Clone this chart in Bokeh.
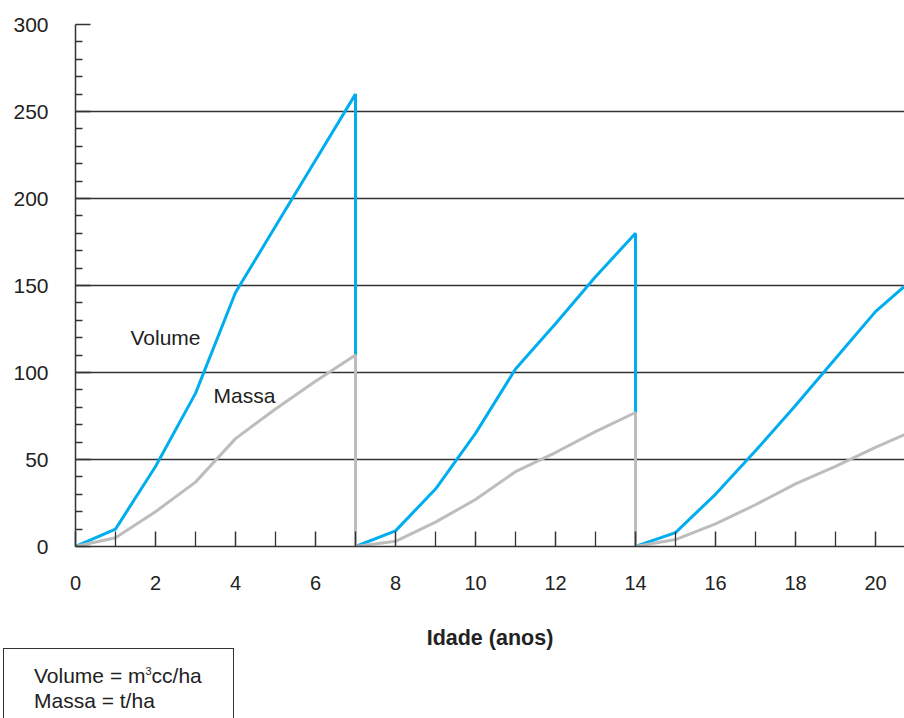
from bokeh.plotting import figure
from bokeh.models import FixedTicker, Label, Range1d, Div
from bokeh.layouts import column
from bokeh.embed import file_html
from bokeh.resources import INLINE

# ---- data ----
age_r1 = [0, 1, 2, 3, 4, 5, 6, 7]
vol_r1 = [0, 10, 46, 88, 146, 184, 222, 260]
mass_r1 = [0, 5, 20, 37, 62, 79, 95, 110]

age_r2 = [7, 8, 9, 10, 11, 12, 13, 14]
vol_r2 = [0, 9, 33, 65, 102, 128, 155, 180]
mass_r2 = [0, 3, 14, 27, 43, 54, 66, 77]

age_r3 = [14, 15, 16, 17, 18, 19, 20, 21]
vol_r3 = [0, 8, 30, 55, 81, 108, 135, 155]
mass_r3 = [0, 4, 13, 24, 36, 46, 57, 67]

y_ticks = [0, 50, 100, 150, 200, 250, 300]
y_minor = [v for v in range(0, 301, 10) if v % 50 != 0]
x_ticks = [0, 2, 4, 6, 8, 10, 12, 14, 16, 18, 20]
x_minor = [1, 3, 5, 7, 9, 11, 13, 15, 17, 19]

x_label = "Idade (anos)"
series_names = ["Volume", "Massa"]
units_lines = ["Volume = m<sup style='font-size:11px'>3</sup>cc/ha", "Massa = t/ha"]

FONT = "Liberation Sans"
BLUE = "#00AEEF"
GREY = "#BDBDBD"
DARK = "#333333"

p = figure(width=904, height=656, output_backend="svg", toolbar_location=None,
           x_range=Range1d(0, 20.725), y_range=Range1d(0, 300),
           min_border_left=75, min_border_right=0, min_border_top=24,
           min_border_bottom=110)
p.outline_line_color = None
p.background_fill_color = "white"

age = age_r1 + age_r2 + age_r3
vol = vol_r1 + vol_r2 + vol_r3
mass = mass_r1 + mass_r2 + mass_r3

p.line(age, vol, line_color=BLUE, line_width=3)
p.line(age, mass, line_color=GREY, line_width=3)

# axes
p.xaxis.ticker = FixedTicker(ticks=x_ticks, minor_ticks=x_minor)
p.yaxis.ticker = FixedTicker(ticks=y_ticks, minor_ticks=y_minor)
for ax in (p.xaxis, p.yaxis):
    ax.axis_line_color = DARK
    ax.axis_line_width = 1.5
    ax.major_tick_line_color = DARK
    ax.minor_tick_line_color = DARK
    ax.major_tick_line_width = 1.5
    ax.minor_tick_line_width = 1.3
    ax.major_tick_out = 0
    ax.minor_tick_out = 0
    ax.major_label_text_font = FONT
    ax.major_label_text_color = "#222222"

p.xaxis.major_tick_in = 15
p.xaxis.minor_tick_in = 15
p.xaxis.major_label_text_font_size = "20px"
p.xaxis.major_label_standoff = 29
p.xaxis.axis_label = x_label
p.xaxis.axis_label_text_font = FONT
p.xaxis.axis_label_text_font_style = "bold"
p.xaxis.axis_label_text_font_size = "21.5px"
p.xaxis.axis_label_text_color = "#222222"
p.xaxis.axis_label_standoff = 33

p.yaxis.major_tick_in = 15
p.yaxis.minor_tick_in = 7
p.yaxis.major_label_text_font_size = "21px"
p.yaxis.major_label_standoff = 27

# grid
p.xgrid.grid_line_color = None
p.ygrid.ticker = FixedTicker(ticks=y_ticks)
p.ygrid.grid_line_color = DARK
p.ygrid.grid_line_width = 1.3

# series labels
p.add_layout(Label(x=1.375, y=120, text=series_names[0], text_font=FONT,
                   text_font_size="21px", text_baseline="middle", text_color="#222222"))
p.add_layout(Label(x=3.45, y=87, text=series_names[1], text_font=FONT,
                   text_font_size="21px", text_baseline="middle", text_color="#222222"))

# units box below the chart
box = Div(text="<br>".join(units_lines), width=231, height=70,
          margin=(-8, 0, 0, 3),
          styles={"border-top": "1.5px solid #333", "border-left": "1.5px solid #333",
                  "border-right": "1.5px solid #333", "box-sizing": "border-box",
                  "font-family": FONT, "font-size": "21px", "line-height": "25px",
                  "color": "#222222", "padding": "10px 0 0 30px",
                  "background-color": "white"})

layout = column(p, box, spacing=0)
open("out.html", "w").write(file_html(layout, INLINE))
